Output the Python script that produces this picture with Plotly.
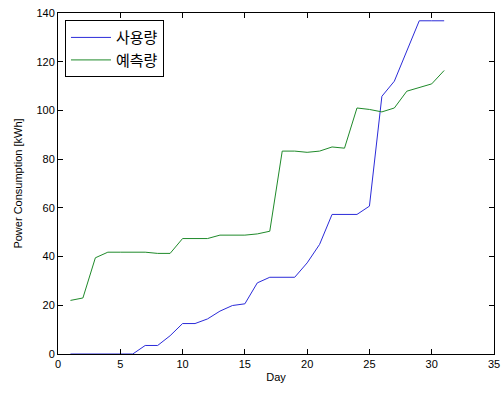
import plotly.graph_objects as go

days = list(range(1, 32))
usage = [0, 0, 0, 0, 0, 0, 3.5, 3.5, 7.5, 12.5, 12.5, 14.4, 17.6, 19.9, 20.6,
         29.2, 31.5, 31.5, 31.5, 37.4, 45.0, 57.3, 57.3, 57.3, 60.7,
         105.8, 112.0, 124.3, 136.8, 136.8, 136.8]
forecast = [22.0, 23.0, 39.5, 41.8, 41.8, 41.8, 41.8, 41.3, 41.3, 47.4, 47.4, 47.4,
            48.8, 48.8, 48.8, 49.3, 50.4, 83.3, 83.3, 82.8, 83.3, 85.0, 84.5,
            101.0, 100.4, 99.4, 101.0, 107.9, 109.3, 110.9, 116.4]
series_names = ["사용량", "예측량"]
x_ticks = [0, 5, 10, 15, 20, 25, 30, 35]
y_ticks = [0, 20, 40, 60, 80, 100, 120, 140]

font_family = "Liberation Sans, Arial, Noto Sans CJK KR, sans-serif"

fig = go.Figure()
fig.add_trace(go.Scatter(x=days, y=usage, mode="lines", name=series_names[0],
                         line=dict(color="#2b2bd9", width=1)))
fig.add_trace(go.Scatter(x=days, y=forecast, mode="lines", name=series_names[1],
                         line=dict(color="#1f8a2a", width=1)))

axis_common = dict(
    showgrid=False, zeroline=False, showline=True, linecolor="black", linewidth=1,
    mirror="ticks", ticks="inside", ticklen=5, tickcolor="black", automargin=False,
    tickfont=dict(size=11, color="black", family=font_family),
)
fig.update_xaxes(range=[0, 35], tickvals=x_ticks,
                 title=dict(text="Day", font=dict(size=11, family=font_family), standoff=4),
                 **axis_common)
fig.update_yaxes(range=[0, 140], tickvals=y_ticks,
                 title=dict(text="Power Consumption [kWh]", font=dict(size=11, family=font_family), standoff=11),
                 **axis_common)

fig.update_layout(
    width=501, height=393,
    margin=dict(l=58, r=7, t=13, b=39),
    plot_bgcolor="white", paper_bgcolor="white",
    font=dict(family=font_family, color="black"),
    showlegend=True,
    legend=dict(x=0.016, y=0.979, xanchor="left", yanchor="top",
                bordercolor="black", borderwidth=1, bgcolor="white",
                font=dict(size=15, family="Noto Sans CJK KR, sans-serif"),
                tracegroupgap=0, itemwidth=40),
)

fig.write_html("out.html", config={"displayModeBar": False},
               post_script="document.body.style.margin='0';document.body.style.overflow='hidden';")
